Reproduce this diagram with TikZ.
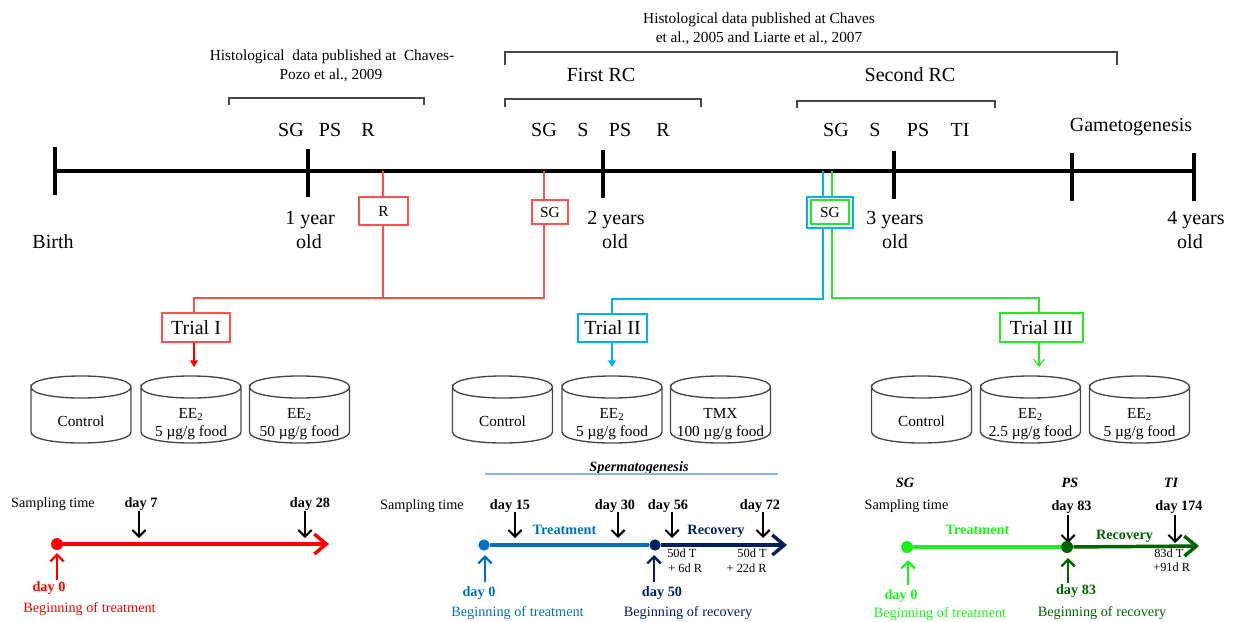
\documentclass[tikz,border=0pt]{standalone}
\usepackage{fontspec}
\setmainfont{Liberation Serif}
\usetikzlibrary{arrows.meta}
\definecolor{cLineRed}{RGB}{255,80,80}
\definecolor{cCyan}{RGB}{0,176,240}
\definecolor{cGreenLine}{RGB}{40,230,40}
\definecolor{cBlue}{RGB}{0,112,192}
\definecolor{cNavy}{RGB}{0,32,96}
\definecolor{cLime}{RGB}{30,240,30}
\definecolor{cDark}{RGB}{0,100,0}
\definecolor{cSperm}{RGB}{141,179,226}
\definecolor{cGray}{RGB}{70,70,70}
\newcommand\cylshape[1]{%
  \draw[cylline] (#1-50,387) .. controls (#1-50,372.3) and (#1+50,372.3) .. (#1+50,387)
     .. controls (#1+50,401.7) and (#1-50,401.7) .. (#1-50,387) -- (#1-50,432)
     .. controls (#1-50,446.7) and (#1+50,446.7) .. (#1+50,432) -- (#1+50,387);}
\newcommand\vtarrow[5]{\coordinate (#1a) at (#2,#3); \coordinate (#1b) at (#2,#4); \draw[#5] (#1a) -- (#1b);}
\begin{document}
\begin{tikzpicture}[x=0.75pt,y=-0.75pt,
  big/.style={font=\fontsize{15}{18}\selectfont, inner sep=0pt, text height=9.9pt, text depth=0pt},
  cite/.style={font=\fontsize{11.5}{14}\selectfont, inner sep=0pt, text height=7.6pt, text depth=0pt},
  cyltxt/.style={font=\fontsize{11.5}{13.5}\selectfont, inner sep=0pt, text height=7.6pt, text depth=0pt},
  note/.style={font=\fontsize{10.7}{13}\selectfont, inner sep=0pt, text height=7.1pt, text depth=0pt},
  bnote/.style={font=\fontsize{10.7}{13}\selectfont\bfseries, inner sep=0pt, text height=7.1pt, text depth=0pt},
  binote/.style={font=\fontsize{10.7}{13}\selectfont\bfseries\itshape, inner sep=0pt, text height=7.1pt, text depth=0pt},
  tinyt/.style={font=\fontsize{9.3}{11}\selectfont, inner sep=0pt, text height=6.1pt, text depth=0pt},
  axis/.style={line width=3pt, black},
  bracket/.style={line width=0.8pt, cGray},
  cylline/.style={line width=1pt, cGray},
  smallbox/.style={draw, fill=white, line width=0.9pt, inner sep=0pt, font=\fontsize{11.5}{14}\selectfont},
  trialbox/.style={draw, fill=white, line width=0.9pt, inner sep=0pt, font=\fontsize{15}{18}\selectfont},
  conn/.style={line width=0.9pt},
  dot/.style={circle, inner sep=0pt, minimum size=9pt},
  samp/.style={line width=1.5pt, black, -{Straight Barb[length=5pt,width=10pt]}},
  uparr/.style={line width=1.8pt, -{Straight Barb[length=5pt,width=10pt]}},
  mainarr/.style={line width=2.6pt, -{Straight Barb[length=9pt,width=15pt]}},
  flat/.style={line width=2.6pt}
]
\useasboundingbox (0,0) rectangle (1237,621);

% ---------- main time axis ----------
\coordinate (L0) at (55,171); \coordinate (L4) at (1194,171);
\draw[axis] (L0) -- (L4);
\foreach \x/\a/\b in {55/147/195, 308/149/197, 603/150/198, 894/151/199, 1072/153/201, 1194/153/201}
  \draw[axis] (\x,\a) -- (\x,\b);

\node[big] (birth) at (53,242) {Birth};
\node[big] (y1a) at (310,218) {1 year};  \node[big] (y1b) at (309,242) {old};
\node[big] (y2a) at (616,218) {2 years}; \node[big] (y2b) at (615,242) {old};
\node[big] (y3a) at (895,218) {3 years}; \node[big] (y3b) at (895,242) {old};
\node[big] (y4a) at (1196,218) {4 years}; \node[big] (y4b) at (1190,242) {old};

% stage labels
\node[big] (s1) at (291,130) {SG}; \node[big] (s2) at (330,130) {PS}; \node[big] (s3) at (368,130) {R};
\node[big] (s4) at (544,130) {SG}; \node[big] (s5) at (583,130) {S}; \node[big] (s6) at (620,130) {PS}; \node[big] (s7) at (663,130) {R};
\node[big] (s8) at (836,130) {SG}; \node[big] (s9) at (875,130) {S}; \node[big] (s10) at (918,130) {PS}; \node[big] (s11) at (960,130) {TI};
\node[big] (gam) at (1131,125) {Gametogenesis};

% brackets and citations
\draw[bracket] (229,105) -- (229,98) -- (424,98) -- (424,105);
\draw[bracket] (505,65) -- (505,52) -- (1117,52) -- (1117,65);
\draw[bracket] (505,107) -- (505,99) -- (701,99) -- (701,107);
\draw[bracket] (797,108) -- (797,101) -- (995,101) -- (995,108);
\node[cite] (c1a) at (332,55) {Histological\ \ data published at\ \ Chaves-};
\node[cite] (c1b) at (331,74) {Pozo et al., 2009};
\node[cite] (c2a) at (759,18) {Histological data published at Chaves};
\node[cite] (c2b) at (759,37) {et al., 2005 and Liarte et al., 2007};
\node[big] (frc) at (601,75) {First RC};
\node[big] (src) at (910,75) {Second RC};

% ---------- sampling boxes on axis ----------
\node[smallbox, draw=cLineRed, minimum width=36.75pt, minimum height=21pt] (Rb) at (383.5,211) {R};
\node[smallbox, draw=cLineRed, minimum width=27pt, minimum height=18pt] (SGr) at (550,212) {};
\node[font=\fontsize{11.5}{14}\selectfont, inner sep=0pt, text height=7.6pt, text depth=0pt] (SGrt) at (550,212) {SG};
\node[smallbox, draw=cCyan, minimum width=34.5pt, minimum height=23.25pt] (SGo) at (830,212.5) {};
\node[smallbox, draw=cGreenLine, minimum width=28.5pt, minimum height=18pt] (SGi) at (830,212) {};
\node[font=\fontsize{11.5}{14}\selectfont, inner sep=0pt, text height=7.6pt, text depth=0pt] (SGit) at (830,212) {SG};

% ---------- trial boxes ----------
\node[trialbox, draw=cLineRed, minimum width=51pt, minimum height=21.75pt] (T1) at (196,327.5) {Trial I};
\node[trialbox, draw=cCyan, minimum width=51.75pt, minimum height=21pt] (T2) at (612.5,328) {Trial II};
\node[trialbox, draw=cGreenLine, minimum width=62.25pt, minimum height=21.75pt] (T3) at (1041.5,327.5) {Trial III};

% red connectors
\coordinate (rT) at (383,171); \coordinate (jR) at (383,298);
\coordinate (sT) at (544,171); \coordinate (jS) at (544,298);
\coordinate (jT1) at (194,298); \coordinate (a1) at (194,367);
\draw[conn, cLineRed] (rT) -- (rT |- Rb.north);
\draw[conn, cLineRed] (rT |- Rb.south) -- (jR);
\draw[conn, cLineRed] (sT) -- (sT |- SGr.north);
\draw[conn, cLineRed] (sT |- SGr.south) -- (jS) -- (jT1) -- (jT1 |- T1.north);
\draw[conn, red, -{Triangle[length=5pt,width=6pt]}] (jT1 |- T1.south) -- (a1);

% blue connectors
\coordinate (bT) at (823,171); \coordinate (bJ) at (823,299); \coordinate (bK) at (612,299); \coordinate (a2) at (612,367);
\draw[conn, cCyan] (bT) -- (bT |- SGo.north);
\draw[conn, cCyan] (bT |- SGo.south) -- (bJ) -- (bK) -- (bK |- T2.north);
\draw[conn, cCyan, -{Triangle[length=5pt,width=6pt]}] (bK |- T2.south) -- (a2);

% green connectors
\coordinate (gT) at (832,171); \coordinate (gJ) at (832,298); \coordinate (gK) at (1039,298); \coordinate (a3) at (1039,367);
\draw[conn, cGreenLine] (gT) -- (gT |- SGo.north);
\draw[conn, cGreenLine] (gT |- SGo.south) -- (gJ) -- (gK) -- (gK |- T3.north);
\draw[conn, cGreenLine, -{Straight Barb[length=5pt,width=8pt]}] (gK |- T3.south) -- (a3);

% ---------- tanks ----------
\foreach \cx in {81,191,299.5,502.5,612,720.5,921.5,1030.5,1139.5} {\cylshape{\cx}}
\node[cyltxt] (k1) at (81,421) {Control};
\node[cyltxt] (k2a) at (191,413) {EE\textsubscript{2}}; \node[cyltxt] (k2b) at (191,431) {5 µg/g food};
\node[cyltxt] (k3a) at (299.5,413) {EE\textsubscript{2}}; \node[cyltxt] (k3b) at (299.5,431) {50 µg/g food};
\node[cyltxt] (k4) at (502.5,421) {Control};
\node[cyltxt] (k5a) at (612,413) {EE\textsubscript{2}}; \node[cyltxt] (k5b) at (612,431) {5 µg/g food};
\node[cyltxt] (k6a) at (720.5,413) {TMX}; \node[cyltxt] (k6b) at (720.5,431) {100 µg/g food};
\node[cyltxt] (k7) at (921.5,421) {Control};
\node[cyltxt] (k8a) at (1030.5,413) {EE\textsubscript{2}}; \node[cyltxt] (k8b) at (1030.5,431) {2.5 µg/g food};
\node[cyltxt] (k9a) at (1139.5,413) {EE\textsubscript{2}}; \node[cyltxt] (k9b) at (1139.5,431) {5 µg/g food};

% ---------- Trial I time line ----------
\node[note] (st1) at (53,503) {Sampling time};
\node[bnote] (d7) at (141,503) {day 7};
\node[bnote] (d28) at (310,503) {day 28};
\vtarrow{p7}{139}{511}{538}{samp}
\vtarrow{p28}{305}{511}{538}{samp}
\node[dot, fill=red] (o1) at (57,544) {};
\coordinate (e1) at (329,544);
\draw[mainarr, red] (o1) -- (e1);
\vtarrow{u1}{57}{580}{553}{uparr, red}
\node[bnote, red] (d0a) at (49,587) {day 0};
\node[note, red] (bt1) at (89.5,608) {Beginning of treatment};

% ---------- Trial II time line ----------
\node[binote] (sperm) at (639,467) {Spermatogenesis};
\coordinate (sp1) at (485,474); \coordinate (sp2) at (778,474);
\draw[line width=0.8pt, cSperm] (sp1) -- (sp2);
\node[note] (st2) at (422,505) {Sampling time};
\node[bnote] (d15) at (510,505) {day 15};
\node[bnote] (d30) at (615,505) {day 30};
\node[bnote] (d56) at (668,505) {day 56};
\node[bnote] (d72) at (760,505) {day 72};
\vtarrow{p15}{515}{512}{538}{samp}
\vtarrow{p30}{618}{512}{538}{samp}
\vtarrow{p56}{672}{512}{538}{samp}
\vtarrow{p72}{763}{512}{538}{samp}
\node[bnote, cBlue] (tr2) at (564.5,530) {Treatment};
\node[bnote, cNavy] (rc2) at (716,530) {Recovery};
\node[dot, fill=cBlue, minimum size=8.5pt] (o2) at (484,545) {};
\node[dot, fill=cNavy, minimum size=8.5pt] (m2) at (655,545) {};
\coordinate (e2) at (787,545);
\draw[flat, cBlue] (o2) -- (m2);
\draw[mainarr, cNavy] (m2) -- (e2);
\node[tinyt, anchor=west] (n1a) at (667,553) {50d T};
\node[tinyt, anchor=west] (n1b) at (668,568) {+ 6d R};
\node[tinyt, anchor=east] (n2a) at (767,553) {50d T};
\node[tinyt, anchor=east] (n2b) at (767,568) {+ 22d R};
\vtarrow{u2}{485}{582}{555}{uparr, cBlue}
\vtarrow{u3}{654}{582}{555}{uparr, cNavy}
\node[bnote, cBlue] (d0b) at (479,592) {day 0};
\node[note, cBlue] (bt2) at (517.5,612) {Beginning of treatment};
\node[bnote, cNavy] (d50) at (662,592) {day 50};
\node[note, cNavy] (br2) at (688,612) {Beginning of recovery};

% ---------- Trial III time line ----------
\node[binote] (lsg) at (905,483) {SG};
\node[binote] (lps) at (1070,483) {PS};
\node[binote] (lti) at (1171,483) {TI};
\node[note] (st3) at (906.5,505) {Sampling time};
\node[bnote] (d83) at (1071.5,506) {day 83};
\node[bnote] (d174) at (1179,506) {day 174};
\vtarrow{p83}{1068}{515}{543}{samp}
\vtarrow{p174}{1175}{515}{543}{samp}
\node[bnote, cLime] (tr3) at (977.5,530) {Treatment};
\node[bnote, cDark] (rc3) at (1124.5,535) {Recovery};
\node[dot, fill=cLime, minimum size=9pt] (o3) at (907,547) {};
\node[dot, fill=cDark, minimum size=9pt] (m3) at (1067,547) {};
\coordinate (e3) at (1199,546);
\draw[flat, cLime] (o3) -- (m3);
\draw[mainarr, cDark] (m3) -- (e3);
\node[tinyt, anchor=west] (n3a) at (1154,553) {83d T};
\node[tinyt, anchor=west] (n3b) at (1153,567) {+91d R};
\vtarrow{u4}{908}{585}{560}{uparr, cLime}
\vtarrow{u5}{1068}{583}{558}{uparr, cDark}
\node[bnote, cLime] (d0c) at (901,595) {day 0};
\node[note, cLime] (bt3) at (940,613) {Beginning of treatment};
\node[bnote, cDark] (d83b) at (1076,590) {day 83};
\node[note, cDark] (br3) at (1102,612) {Beginning of recovery};
\end{tikzpicture}
\end{document}
